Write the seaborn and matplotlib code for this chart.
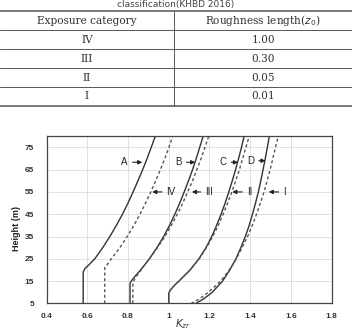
import matplotlib
matplotlib.use("Agg")
import matplotlib.pyplot as plt
import seaborn as sns
import pandas as pd
from matplotlib.lines import Line2D

# ---------------- data ----------------
table_title = "classification(KHBD 2016)"
table_header = ["Exposure category", "Roughness length($z_0$)"]
exposure_categories = ["IV", "III", "II", "I"]
roughness_lengths = ["1.00", "0.30", "0.05", "0.01"]

# solid curves (A-D)
A_height = [5, 19, 20.5, 22, 25, 30, 35, 40, 45, 50, 55, 60, 65, 70, 75, 80]
A_k = [0.58, 0.58, 0.588, 0.605, 0.637, 0.676, 0.711, 0.743, 0.773, 0.800, 0.825, 0.849, 0.872, 0.894, 0.914, 0.934]
B_height = [5, 14, 15.5, 17, 20, 25, 30, 35, 40, 45, 50, 55, 60, 65, 70, 75, 80]
B_k = [0.81, 0.81, 0.82, 0.833, 0.862, 0.905, 0.942, 0.975, 1.004, 1.030, 1.054, 1.076, 1.097, 1.117, 1.135, 1.152, 1.169]
C_height = [5, 9.5, 11, 13, 15, 20, 25, 30, 35, 40, 45, 50, 55, 60, 65, 70, 75, 80]
C_k = [1.0, 1.0, 1.008, 1.027, 1.05, 1.105, 1.148, 1.183, 1.211, 1.235, 1.257, 1.277, 1.295, 1.312, 1.328, 1.343, 1.357, 1.370]
D_height = [5, 7, 10, 15, 20, 25, 30, 35, 40, 45, 50, 55, 60, 65, 70, 75, 80]
D_k = [1.133, 1.171, 1.214, 1.264, 1.300, 1.330, 1.354, 1.376, 1.395, 1.411, 1.426, 1.440, 1.452, 1.463, 1.474, 1.484, 1.494]

# dashed curves (IV-I, KHBD 2016)
IV_height = [5, 21, 22, 25, 30, 35, 40, 45, 50, 55, 60, 65, 70, 75, 80]
IV_k = [0.686, 0.686, 0.695, 0.718, 0.760, 0.796, 0.829, 0.859, 0.886, 0.912, 0.936, 0.959, 0.981, 1.001, 1.020]
III_height = [5, 14, 16, 18, 21, 25, 30, 35, 40, 45, 50, 55, 60, 65, 70, 75, 80]
III_k = [0.824, 0.824, 0.833, 0.848, 0.872, 0.905, 0.945, 0.981, 1.013, 1.042, 1.069, 1.093, 1.117, 1.138, 1.159, 1.178, 1.196]
II_height = [5, 9.5, 11, 13, 15, 20, 25, 30, 35, 40, 45, 50, 55, 60, 65, 70, 75, 80]
II_k = [1.0, 1.0, 1.008, 1.027, 1.05, 1.105, 1.150, 1.185, 1.216, 1.243, 1.267, 1.289, 1.310, 1.329, 1.347, 1.363, 1.379, 1.395]
I_height = [5, 7, 10, 15, 20, 25, 30, 35, 40, 45, 50, 55, 60, 65, 70, 75, 80]
I_k = [1.11, 1.15, 1.195, 1.255, 1.297, 1.332, 1.360, 1.387, 1.410, 1.431, 1.450, 1.468, 1.483, 1.498, 1.511, 1.524, 1.538]

curve_labels = ["A", "B", "C", "D", "IV", "III", "II", "I"]
label_text_k = [0.784, 1.049, 1.267, 1.402, 1.012, 1.199, 1.397, 1.569]
label_arrow_k = [0.870, 1.130, 1.340, 1.475, 0.919, 1.114, 1.312, 1.491]
label_height = [68.3, 68.3, 68.3, 69.0, 55.0, 55.0, 55.0, 55.0]

x_ticks = [0.4, 0.6, 0.8, 1.0, 1.2, 1.4, 1.6, 1.8]
x_tick_labels = ["0.4", "0.6", "0.8", "1", "1.2", "1.4", "1.6", "1.8"]
y_ticks = [5, 15, 25, 35, 45, 55, 65, 75]

# ---------------- build frame ----------------
rows = []
for name, hs, ks, kind in [("A", A_height, A_k, "solid"), ("B", B_height, B_k, "solid"),
                           ("C", C_height, C_k, "solid"), ("D", D_height, D_k, "solid"),
                           ("IV", IV_height, IV_k, "dashed"), ("III", III_height, III_k, "dashed"),
                           ("II", II_height, II_k, "dashed"), ("I", I_height, I_k, "dashed")]:
    for h, k in zip(hs, ks):
        rows.append({"curve": name, "height": h, "K": k, "kind": kind})
df = pd.DataFrame(rows)

sns.set_style("white")
plt.rcParams["font.family"] = ["DejaVu Sans"]

W, H = 352, 332
fig = plt.figure(figsize=(W / 100, H / 100), dpi=100)

# ---------------- table (pixel coordinate axes) ----------------
tax = fig.add_axes([0, 0, 1, 1])
tax.set_xlim(0, W)
tax.set_ylim(H, 0)
tax.axis("off")

row_lines = [10.7, 30.0, 49.0, 68.0, 87.0, 105.5]
for i, yl in enumerate(row_lines):
    lw = 1.1 if i in (0, len(row_lines) - 1) else 0.7
    tax.add_line(Line2D([0, W], [yl, yl], color="#555555", lw=lw))
tax.add_line(Line2D([174, 174], [row_lines[0], row_lines[-1]], color="#555555", lw=0.7))

col_x = [87, 263]
tax.text(176, 4.6, table_title, ha="center", va="center", fontsize=6.5,
         color="#444444", family="DejaVu Sans")
tax.text(col_x[0], 20.6, table_header[0], ha="center", va="center", fontsize=7.6,
         color="#333333", family="DejaVu Serif")
tax.text(col_x[1], 20.6, table_header[1], ha="center", va="center", fontsize=7.6,
         color="#333333", family="DejaVu Serif")
row_centers = [39.6, 58.6, 77.6, 96.4]
for yc, cat, rl in zip(row_centers, exposure_categories, roughness_lengths):
    tax.text(col_x[0], yc, cat, ha="center", va="center", fontsize=7.6,
             color="#333333", family="DejaVu Serif")
    tax.text(col_x[1], yc, rl, ha="center", va="center", fontsize=7.6,
             color="#333333", family="DejaVu Serif")

# ---------------- chart ----------------
left, right = 46.5, 331.7
top, bottom = 136.2, 303.4
ax = fig.add_axes([left / W, 1 - bottom / H, (right - left) / W, (bottom - top) / H])

for name in curve_labels:
    sub = df[df["curve"] == name]
    dashed = sub["kind"].iloc[0] == "dashed"
    sns.lineplot(data=sub, x="K", y="height", orient="y", estimator=None, sort=False,
                 ax=ax, color="#555555" if dashed else "#333333",
                 lw=1.0, linestyle=(0, (2.2, 1.8)) if dashed else "-", legend=False)

ax.set_xlim(0.4, 1.8)
ax.set_ylim(5, 80)
ax.set_xticks(x_ticks)
ax.set_xticklabels(x_tick_labels)
ax.set_yticks(y_ticks)
ax.grid(True, color="#dcdcdc", lw=0.6)
ax.set_axisbelow(True)
for s in ax.spines.values():
    s.set_color("#444444")
    s.set_linewidth(0.9)
ax.tick_params(axis="x", length=0, labelsize=6, labelcolor="#333333", pad=7)
ax.tick_params(axis="y", length=0, labelsize=6, labelcolor="#333333", pad=9)
for lab in ax.get_xticklabels() + ax.get_yticklabels():
    lab.set_fontweight("bold")
    lab.set_family("Liberation Sans")
ax.set_xlabel("")
ax.set_ylabel("Height (m)", fontsize=6.5, fontweight="bold", family="Liberation Sans",
              color="#222222")
ax.yaxis.set_label_coords(-0.088, 0.445)
fig.text(183 / W, 1 - 324.5 / H, "$K_{zr}$", ha="center", va="center", fontsize=7.5,
         family="DejaVu Serif", color="#333333")

for lab, tk, ak, hh in zip(curve_labels, label_text_k, label_arrow_k, label_height):
    ax.annotate(lab, xy=(ak, hh), xytext=(tk, hh), ha="center", va="center",
                fontsize=7, color="#222222", family="Liberation Sans",
                arrowprops=dict(arrowstyle="-|>", color="#222222", lw=0.8,
                                mutation_scale=6, shrinkA=1, shrinkB=0))

fig.savefig("out.png", dpi=100)
